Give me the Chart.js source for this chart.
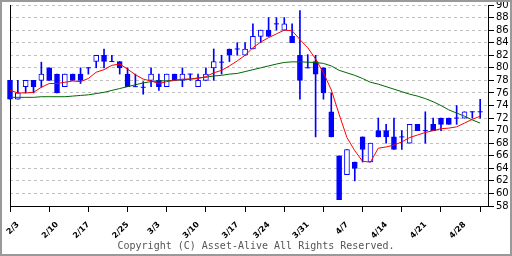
<!DOCTYPE html>
<html>
<head>
<meta charset="utf-8">
<script src="https://cdn.jsdelivr.net/npm/chart.js@4"></script>
<style>
  html, body { margin: 0; padding: 0; background: #fff; }
  #wrap { position: relative; width: 512px; height: 256px; }
  #chart { position: absolute; left: 0; top: 0; }
  #frame { position: absolute; left: 0; top: 0; width: 512px; height: 256px; box-sizing: border-box; border: 2px solid #999; pointer-events: none; }
  #copy { position: absolute; left: 0; top: 240px; width: 512px; text-align: center; font: 10px "DejaVu Sans Mono", monospace; color: #555; }
</style>
</head>
<body>
<div id="wrap">
  <canvas id="chart" width="512" height="256"></canvas>
  <div id="copy">Copyright (C) Asset-Alive All Rights Reserved.</div>
  <div id="frame"></div>
</div>
<script>
// --- data (one entry per trading day, 2/3 .. 5/2) ---
const opens  = [78,75,77,78,78,80,79,77,79,79, 80,81,82,81,81,79,77,76.9,78,78, 77,79,78,79,77,78,80,80.9,83,83,
                82,83,85,86,87,86,85,82,80,81, 80,73,66,63,65,69,65,70,70,69, 69,68,71,70,71,72,72,72,72,73, 73];
const highs  = [78,78,78,78,80.9,80,79,79,79,80, 80,82,83,82,81,80,79,77.8,80,79, 79,79,80,79,79,80,83,82,83,84,
                84,87,86,88,88,88,87,89.1,82.1,82, 80,76,66,67,65,69,68,72,71,72, 70,71,71,73,72,72,72,74,73,73, 75];
const lows   = [75,75,76,76,76.9,78,76,77,78,77.5, 79,80,80,81,79,77,77,75.8,77,76.4, 77,78,77,78,77,78,78,79,81,82,
                82,83,84,85,86,86,84,75,80,69, 75,69,59,63,62,65,65,69,68,67, 67,68,70,68,70,70,71,71,72,72, 72];
const closes = [75,76,78,77,79,78,76,79,78,78, 80,82,81,81,80,77,77,76.9,79,77, 79,78,79,79,78,79,81,80.9,82,83,
                83,85,86,85,87,87,84,78,80,79, 76,69,59,67,64,67,68,69,69,67, 69,71,70,70,70,71,71,72,73,73, 73];

const ma5  = [76.4,76.0,76.0,76.1,76.9,77.5,77.5,77.7,77.9,77.8, 78.3,79.3,79.7,80.4,80.6,79.8,78.9,78.2,77.9,77.5,
              77.8,78.0,78.2,78.2,78.3,78.6,79.2,79.6,80.3,81.1, 82.0,83.2,84.1,84.8,85.4,86.0,85.9,84.5,83.2,81.4,
              79.2,76.5,72.6,68.9,66.8,65.1,65.0,67.2,67.4,67.7, 68.2,68.9,69.3,69.7,70.0,70.3,70.4,70.6,71.2,71.8, 72.3];
const ma25 = [75.3,75.3,75.3,75.3,75.4,75.4,75.4,75.4,75.5,75.6, 75.7,75.9,76.1,76.4,76.7,77.0,77.3,77.6,77.8,77.9,
              77.95,78.0,78.1,78.2,78.4,78.5,78.7,78.8,79.0,79.1, 79.4,79.7,80.0,80.3,80.6,80.85,80.95,80.95,80.9,80.85,
              80.7,80.3,79.6,79.2,78.8,78.3,77.7,77.4,77.0,76.6, 76.2,75.8,75.5,75.1,74.6,74.0,73.3,72.8,72.3,71.7, 71.2];

const dateLabels = ['2/3','2/10','2/17','2/25','3/3','3/10','3/17','3/24','3/31','4/7','4/14','4/21','4/28'];
const dateIdx    = [0, 5, 9, 14, 18, 23, 28, 32, 37, 42, 47, 52, 57];
const tickIdx    = [0, 5, 10, 15, 20, 25, 30, 35, 40, 45, 50, 55, 60];

const BLUE = '#0000ff';
const FONT = 'DejaVu Sans';

// --- build datasets ---
const days = opens.map((_, i) => i);
const wicks = days.map(i => ({ x: i, y: [lows[i], highs[i]] }));
const bodyDays = days.filter(i => opens[i] !== closes[i]);
const bodies = bodyDays.map(i => ({ x: i, y: [Math.min(opens[i], closes[i]), Math.max(opens[i], closes[i])] }));
const bodyFill = bodyDays.map(i => closes[i] < opens[i] ? BLUE : '#ffffff');
const dojis = days.filter(i => opens[i] === closes[i]).map(i => ({ x: i, y: closes[i] }));

Chart.defaults.font.family = FONT;
Chart.defaults.font.size = 10;
Chart.defaults.color = '#000';

new Chart(document.getElementById('chart'), {
    type: 'bar',
    data: {
        datasets: [
            { type: 'line', label: '5日', data: days.map(i => ({ x: i, y: ma5[i] })),
              borderColor: '#ff0000', borderWidth: 1, pointRadius: 0, tension: 0, order: 0,
              xAxisID: 'x', yAxisID: 'y' },
            { type: 'line', label: '25日', data: days.map(i => ({ x: i, y: ma25[i] })),
              borderColor: '#006600', borderWidth: 1, pointRadius: 0, tension: 0, order: 1,
              xAxisID: 'x', yAxisID: 'y' },
            { type: 'scatter', label: 'doji', data: dojis, pointStyle: 'line', pointRadius: 2.5,
              pointBorderColor: BLUE, pointBorderWidth: 1, order: 2, clip: false,
              xAxisID: 'x', yAxisID: 'y' },
            { type: 'bar', label: 'body', data: bodies, backgroundColor: bodyFill, borderColor: BLUE,
              borderWidth: 1, borderSkipped: false, barThickness: 5, grouped: false, order: 3, clip: false,
              xAxisID: 'x', yAxisID: 'y' },
            { type: 'bar', label: 'wick', data: wicks, backgroundColor: BLUE, borderWidth: 0,
              barThickness: 1, grouped: false, order: 4, clip: false,
              xAxisID: 'x', yAxisID: 'y' }
        ]
    },
    options: {
        responsive: false,
        animation: false,
        events: [],
        layout: { padding: { left: 10, top: 5, right: 0, bottom: 0 } },
        plugins: { legend: { display: false }, tooltip: { enabled: false } },
        scales: {
            x: {
                type: 'linear', position: 'bottom', min: 0, max: 61, offset: false, weight: 0,
                afterBuildTicks: s => { s.ticks = tickIdx.map(v => ({ value: v })); },
                ticks: { display: false },
                grid: { display: true, drawOnChartArea: false, drawTicks: true, tickLength: 6,
                        tickColor: '#000', tickWidth: 1, offset: false },
                border: { display: true, color: '#000', width: 1 },
                afterFit: s => { s.height = 7; s.paddingLeft = 0; s.paddingRight = 0; }
            },
            x2: {
                type: 'linear', axis: 'x', position: 'bottom', min: 0, max: 61, offset: false, weight: 1,
                afterBuildTicks: s => { s.ticks = dateIdx.map(v => ({ value: v })); },
                ticks: { autoSkip: false, minRotation: 45, maxRotation: 45, padding: 7, labelOffset: 8,
                         color: '#000', font: { size: 8, weight: 'bold', family: FONT },
                         callback: (v, i) => dateLabels[i] },
                grid: { display: true, drawOnChartArea: false, drawTicks: false },
                border: { display: false },
                afterFit: s => { s.height = 43; s.paddingLeft = 0; s.paddingRight = 0; }
            },
            y: {
                type: 'linear', position: 'right', min: 58, max: 90,
                ticks: { stepSize: 2, autoSkip: false, padding: 2, color: '#000', font: { size: 10, family: FONT } },
                grid: { color: '#c0c0c0', lineWidth: 1, drawTicks: true, tickLength: 6,
                        tickColor: '#000', tickWidth: 1, tickBorderDash: [] },
                border: { display: true, color: '#000', width: 1, dash: [3, 3] },
                afterFit: s => { s.width = 24; s.paddingTop = 0; s.paddingBottom = 0; }
            },
            yl: {
                type: 'linear', axis: 'y', position: 'left', min: 58, max: 90,
                ticks: { display: false },
                grid: { display: true, drawOnChartArea: false, drawTicks: false },
                border: { display: true, color: '#000', width: 1 },
                afterFit: s => { s.width = 0; s.paddingTop = 0; s.paddingBottom = 0; }
            }
        }
    }
});
</script>
</body>
</html>
